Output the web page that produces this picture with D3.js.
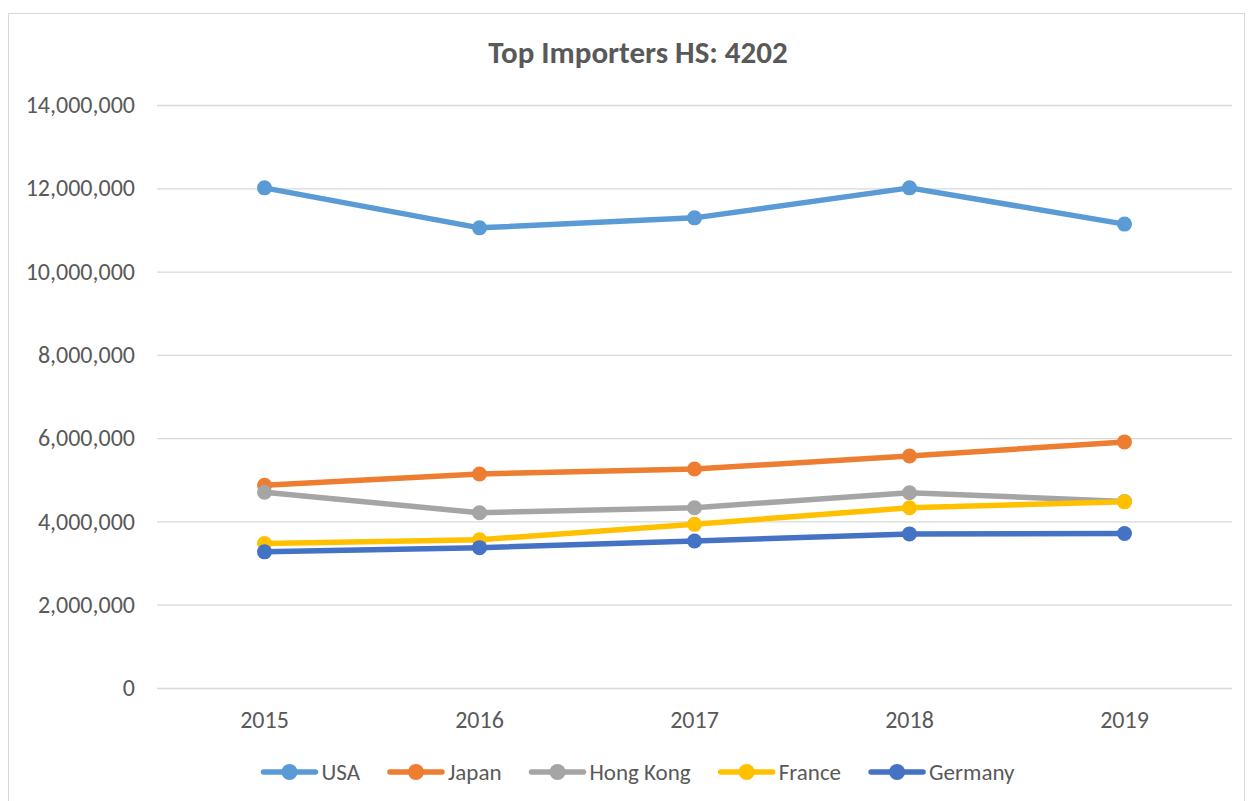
<!DOCTYPE html>
<html>
<head>
<meta charset="utf-8">
<script src="https://cdn.jsdelivr.net/npm/d3@7"></script>
<style>
  body { margin: 0; background: #fff; }
  svg { font-family: Carlito, Calibri, Lato, "Open Sans", sans-serif; }
</style>
</head>
<body>
<div id="main"></div>
<script>
const years = ['2015', '2016', '2017', '2018', '2019']
const countries = ['USA', 'Japan', 'Hong Kong', 'France', 'Germany']
const colors = ['#5B9BD5', '#ED7D31', '#A5A5A5', '#FFC000', '#4472C4']
const usa = [12010000, 11050000, 11290000, 12010000, 11140000]
const japan = [4870000, 5140000, 5260000, 5570000, 5910000]
const hongKong = [4700000, 4210000, 4330000, 4690000, 4480000]
const france = [3470000, 3560000, 3930000, 4330000, 4470000]
const germany = [3270000, 3370000, 3530000, 3700000, 3710000]
const yTicks = [0, 2000000, 4000000, 6000000, 8000000, 10000000, 12000000, 14000000]

const series = [usa, japan, hongKong, france, germany].map((values, i) => ({
  name: countries[i],
  color: colors[i],
  values
}))

const width = 1250
const height = 801
const margin = { top: 105, bottom: 113, left: 157, right: 18 }

const svg = d3.select('#main').append('svg')
  .attr('width', width)
  .attr('height', height)

// chart frame
svg.append('rect')
  .attr('x', 8.5).attr('y', 13.5)
  .attr('width', 1236).attr('height', 800)
  .attr('fill', 'none').attr('stroke', '#d9d9d9')

svg.append('text')
  .attr('x', 638).attr('y', 63)
  .attr('text-anchor', 'middle')
  .attr('font-size', 31).attr('font-weight', 'bold')
  .attr('fill', '#595959')
  .text('Top Importers HS: 4202')

const xScale = d3.scaleBand().domain(years).range([margin.left, width - margin.right])
const yScale = d3.scaleLinear().domain([0, 14000000]).range([height - margin.bottom, margin.top])
const cx = d => xScale(d) + xScale.bandwidth() / 2

// gridlines + y labels
const yAxis = d3.axisLeft(yScale)
  .tickValues(yTicks)
  .tickSize(-(width - margin.left - margin.right))
  .tickPadding(22)
  .tickFormat(d3.format(','))
const gy = svg.append('g').attr('transform', `translate(${margin.left},0)`).call(yAxis)
  .attr('font-family', null).attr('font-size', 24)
gy.select('.domain').remove()
gy.selectAll('line').attr('stroke', '#d9d9d9').attr('stroke-width', 1.3)
gy.selectAll('text').attr('fill', '#595959')

// x labels
const xAxis = d3.axisBottom(xScale).tickSize(0).tickPadding(23)
const gx = svg.append('g').attr('transform', `translate(0,${height - margin.bottom})`).call(xAxis)
  .attr('font-family', null).attr('font-size', 24)
gx.select('.domain').remove()
gx.selectAll('text').attr('fill', '#595959')

const line = d3.line()
  .x((d, i) => cx(years[i]))
  .y(d => yScale(d))

const gSeries = svg.append('g')
series.forEach(s => {
  const g = gSeries.append('g')
  g.append('path')
    .attr('d', line(s.values))
    .attr('fill', 'none')
    .attr('stroke', s.color)
    .attr('stroke-width', 5.5)
    .attr('stroke-linejoin', 'round')
  g.selectAll('circle')
    .data(s.values)
    .enter()
    .append('circle')
    .attr('cx', (d, i) => cx(years[i]))
    .attr('cy', d => yScale(d))
    .attr('r', 7.5)
    .attr('fill', s.color)
})

// legend
const legend = svg.append('g')
const legendY = 772
const gap = 28
let x = 0
series.forEach(s => {
  const g = legend.append('g')
  g.append('line')
    .attr('x1', 2).attr('x2', 54)
    .attr('y1', 0).attr('y2', 0)
    .attr('stroke', s.color).attr('stroke-width', 5.5).attr('stroke-linecap', 'round')
  g.append('circle').attr('cx', 28).attr('cy', 0).attr('r', 8).attr('fill', s.color)
  const t = g.append('text')
    .attr('x', 60).attr('y', 8)
    .attr('font-size', 23).attr('fill', '#595959')
    .text(s.name)
  const w = 60 + t.node().getComputedTextLength()
  g.attr('transform', `translate(${x},${legendY})`)
  x += w + gap
})
const total = x - gap
legend.attr('transform', `translate(${638 - total / 2},0)`)
</script>
</body>
</html>
